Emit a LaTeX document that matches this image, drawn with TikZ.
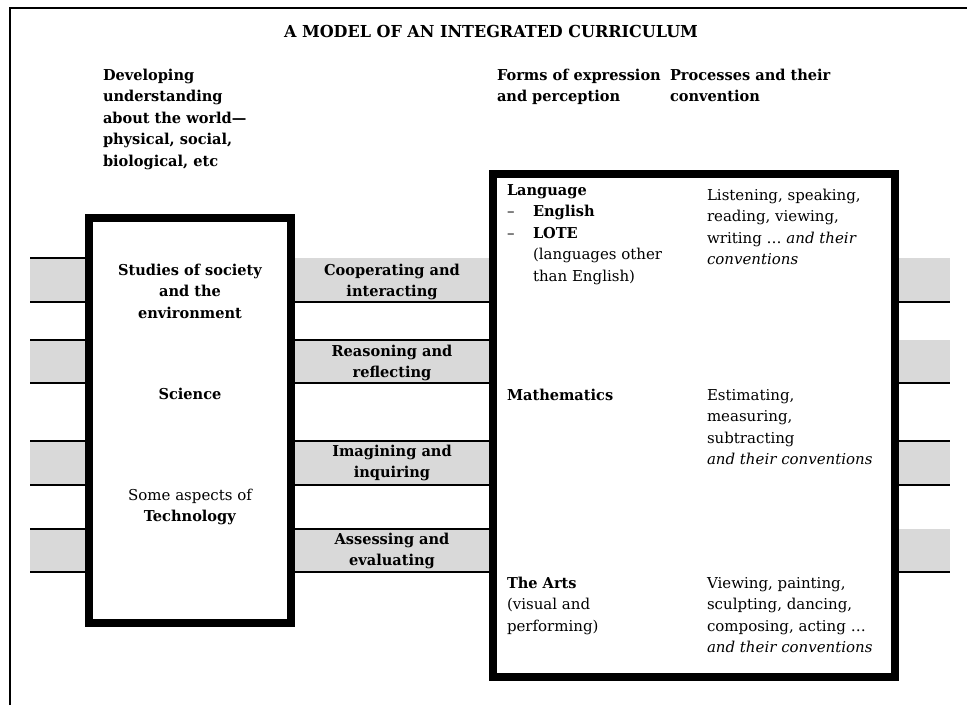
\documentclass[tikz,border=0pt]{standalone}
\usepackage{fontspec}
\setmainfont{DejaVu Serif}[BoldFeatures={FakeStretch=0.97}]
\definecolor{bandgray}{HTML}{D9D9D9}
\newcommand{\txtsize}{\fontsize{15}{21.5}\selectfont}
\begin{document}
\begin{tikzpicture}[x=1pt,y=-1pt,
  every node/.style={inner sep=0pt,outer sep=0pt,font=\txtsize},
  heading/.style={font=\txtsize\bfseries,align=left,anchor=base west},
  plain/.style={align=left,anchor=base west},
  centred/.style={align=center,anchor=base},
  centredbold/.style={align=center,anchor=base,font=\txtsize\bfseries},
  band/.style={fill=bandgray,draw=none},
  bandrule/.style={line width=2.2pt},
  frame/.style={line width=2pt},
  bigbox/.style={line width=8pt,fill=white}
]
\useasboundingbox (0,0) rectangle (967,705);

% outer frame, open at right and bottom
\draw[frame] (10,705) -- (10,7.5) -- (967,7.5);

% grey bands: left stubs, middle strips, right stubs
\foreach \t/\b in {258/302,340/383,441/485,529/572}{
  \fill[band] (30,\t) rectangle (89,\b);
  \fill[band] (291,\t) rectangle (493,\b);
  \fill[band] (895,\t) rectangle (950,\b);
  \draw[bandrule] (30,\t) -- (89,\t) (30,\b) -- (89,\b);
  \draw[bandrule] (291,\b) -- (493,\b);
  \draw[bandrule] (895,\b) -- (950,\b);
}
\draw[bandrule] (291,340) -- (493,340) (291,441) -- (493,441) (291,529) -- (493,529);
\draw[bandrule] (895,441) -- (950,441);

% the two framed columns
\draw[bigbox] (89,218) rectangle (291,623);
\draw[bigbox] (493,174) rectangle (895,677);

% title and column headings (multi-line nodes sit on their last baseline)
\node[anchor=base,font=\fontsize{16.5}{20}\selectfont\bfseries] (title) at (491,37) {A MODEL OF AN INTEGRATED CURRICULUM};
\node[heading] (world) at (103,166) {Developing\\understanding\\about the world—\\physical, social,\\biological, etc};
\node[heading] (forms) at (497,101.5) {Forms of expression\\and perception};
\node[heading] (procs) at (670,101.5) {Processes and their\\convention};

% learning areas in the left column
\node[centredbold] (sose) at (190,318) {Studies of society\\and the\\environment};
\node[centredbold] (sci) at (190,399) {Science};
\node[centred] (tech) at (190,521.5) {Some aspects of\\\textbf{Technology}};

% processes in the grey strips
\node[centredbold] (coop) at (392,296.5) {Cooperating and\\interacting};
\node[centredbold] (reas) at (392,377.5) {Reasoning and\\reflecting};
\node[centredbold] (imag) at (392,477.5) {Imagining and\\inquiring};
\node[centredbold] (asse) at (392,565.5) {Assessing and\\evaluating};

% forms of expression
\node[plain] (lang) at (507,281) {\textbf{Language}\\\makebox[26pt][l]{–}\textbf{English}\\\makebox[26pt][l]{–}\textbf{LOTE}\\\hspace{26pt}(languages other\\\hspace{26pt}than English)};
\node[plain] (math) at (507,400) {\textbf{Mathematics}};
\node[plain] (arts) at (507,631) {\textbf{The Arts}\\(visual and\\performing)};

% processes and conventions
\node[plain] (langp) at (707,264.5) {Listening, speaking,\\reading, viewing,\\writing … \textit{and their}\\\textit{conventions}};
\node[plain] (mathp) at (707,464.5) {Estimating,\\measuring,\\subtracting\\\textit{and their conventions}};
\node[plain] (artsp) at (707,652.5) {Viewing, painting,\\sculpting, dancing,\\composing, acting …\\\textit{and their conventions}};
\end{tikzpicture}
\end{document}
